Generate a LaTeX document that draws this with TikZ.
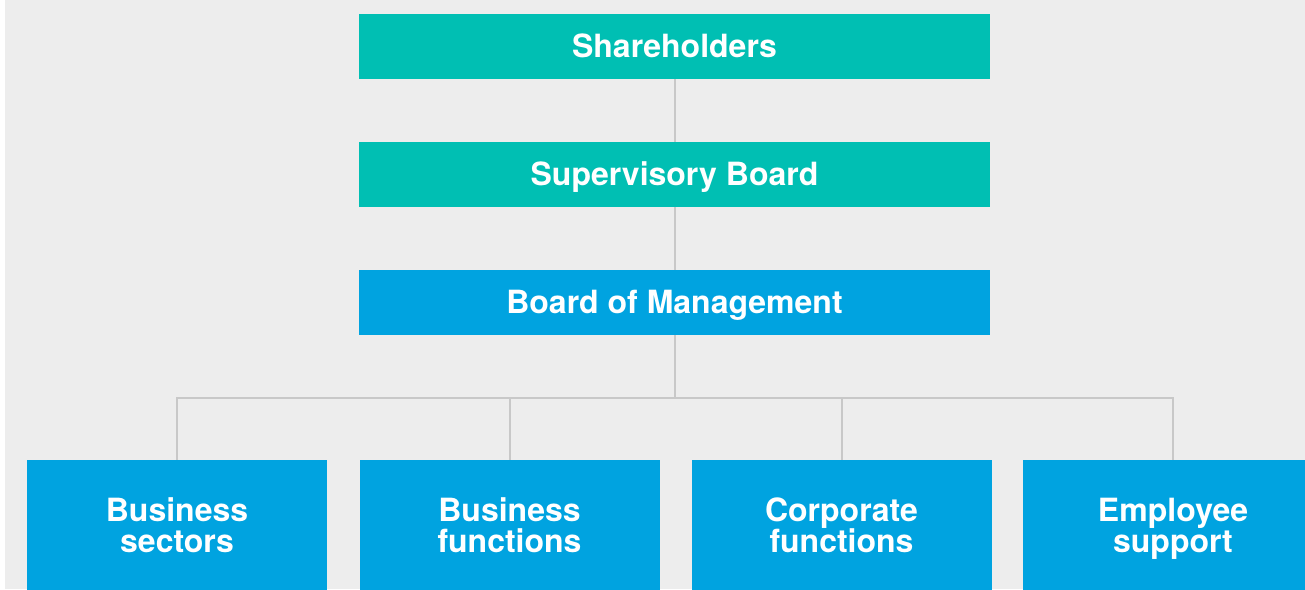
\documentclass[tikz,border=0pt]{standalone}
\usepackage{fontspec}
\setmainfont{TeX Gyre Heros}
\usetikzlibrary{positioning,calc,backgrounds}
\pgfdeclarelayer{edgelayer}
\pgfdeclarelayer{nodelayer}
\pgfsetlayers{background,edgelayer,nodelayer,main}
\definecolor{bggray}{RGB}{237,237,237}
\definecolor{boardteal}{RGB}{0,191,179}
\definecolor{skyblue}{RGB}{0,163,224}
\definecolor{linegray}{RGB}{200,200,200}
\tikzstyle{box}=[inner sep=0pt,text=white,font=\fontsize{16}{15.5}\selectfont\bfseries,align=center]
\tikzstyle{board}=[box,fill=boardteal,minimum width=315.5pt,minimum height=32.5pt,text height=13pt,text depth=2.5pt]
\tikzstyle{mgmt}=[board,fill=skyblue]
\tikzstyle{unit}=[box,fill=skyblue,minimum width=150pt,minimum height=69pt,execute at end node={\vphantom{p}}]
\tikzstyle{link}=[draw=linegray,line width=1pt]

\begin{document}
\begin{tikzpicture}[x=0.5pt,y=-0.5pt]
	\useasboundingbox (0,0) rectangle (1305,589);
	\clip (0,0) rectangle (1305,589);
	\begin{pgfonlayer}{background}
		\fill [bggray] (4.5,0) rectangle (1305,589);
	\end{pgfonlayer}
	\begin{pgfonlayer}{nodelayer}
		\node [style=board] (sh) at (674.5,46.5) {Shareholders};
		\node [style=board] (sb) at (674.5,174.5) {Supervisory Board};
		\node [style=mgmt] (bm) at (674.5,302.5) {Board of Management};
		\node [style=unit] (u1) at (177,529) {Business\\sectors};
		\node [style=unit] (u2) at (509.5,529) {Business\\functions};
		\node [style=unit] (u3) at (841.5,529) {Corporate\\functions};
		\node [style=unit] (u4) at (1173,529) {Employee\\support};
		\coordinate (fork) at (674.5,398);
	\end{pgfonlayer}
	\begin{pgfonlayer}{edgelayer}
		\draw [style=link] (sh.south) to (sb.north);
		\draw [style=link] (sb.south) to (bm.north);
		\draw [style=link] (bm.south) to (fork);
		\foreach \u in {u1,u2,u3,u4}
			\draw [style=link] (fork) -| (\u.north);
	\end{pgfonlayer}
\end{tikzpicture}
\end{document}
